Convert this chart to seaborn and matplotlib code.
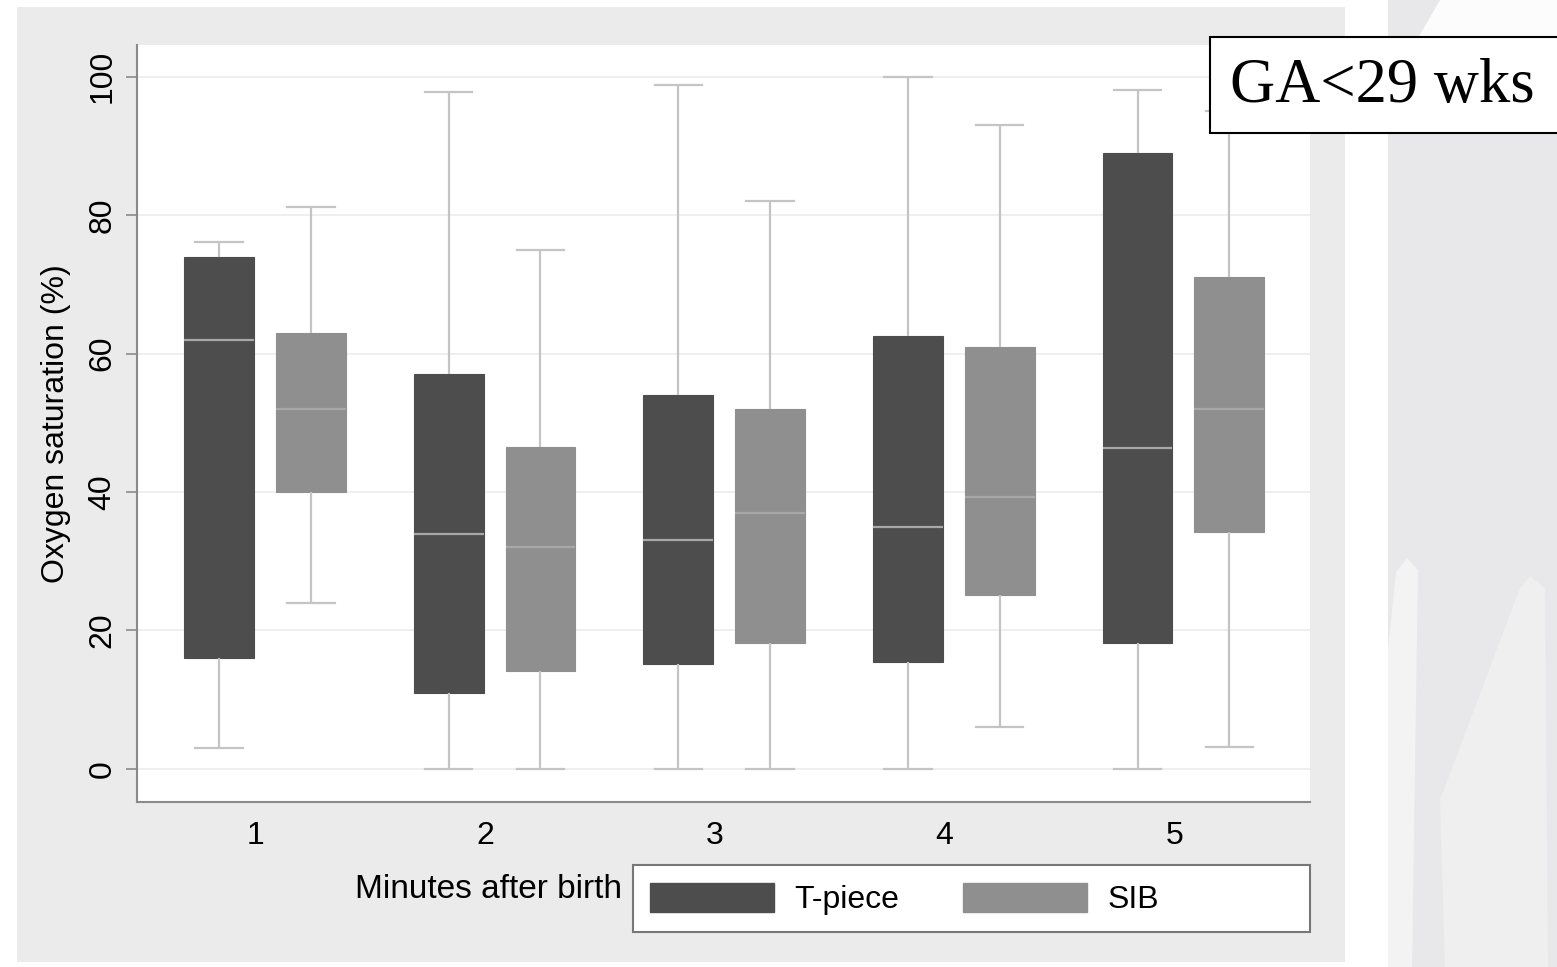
import matplotlib
matplotlib.use("Agg")
import matplotlib.pyplot as plt
import seaborn as sns
import numpy as np
import pandas as pd
from matplotlib.patches import Rectangle, Patch

# five-number summaries (min, q1, median, q3, max)
minutes = ["1", "2", "3", "4", "5"]
devices = ["T-piece", "SIB"]

tpiece_min = [3, 0, 0, 0, 0]
tpiece_q1 = [16, 11, 15.2, 15.5, 18.2]
tpiece_med = [62, 34, 33, 35, 46.3]
tpiece_q3 = [74, 57, 54, 62.5, 89]
tpiece_max = [76.2, 97.8, 98.8, 100, 98.1]

sib_min = [24, 0, 0, 6.1, 3.1]
sib_q1 = [40, 14.1, 18.2, 25.1, 34.2]
sib_med = [52, 32, 37, 39.3, 52]
sib_q3 = [63, 46.5, 52, 61, 71]
sib_max = [81.2, 75, 82, 93, 95]

colors = {"T-piece": "#4d4d4d", "SIB": "#8f8f8f"}


def build_frame():
    """Five points per box give exactly these quartiles with linear percentiles."""
    rows = []
    for i, m in enumerate(minutes):
        for dev, parts in (("T-piece", (tpiece_min, tpiece_q1, tpiece_med, tpiece_q3, tpiece_max)),
                           ("SIB", (sib_min, sib_q1, sib_med, sib_q3, sib_max))):
            for p in parts:
                rows.append({"minute": m, "device": dev, "sat": p[i]})
    return pd.DataFrame(rows)


df = build_frame()

W, H = 1557, 967
FS = 23
fig = plt.figure(figsize=(W / 100, H / 100), dpi=100)
fig.patch.set_facecolor("white")


def fig_poly(pts, color, z=-9):
    # polygon given in pixel coords of the picture (y down)
    xy = [(x / W, 1 - y / H) for x, y in pts]
    fig.patches.append(plt.Polygon(xy, closed=True, transform=fig.transFigure,
                                   facecolor=color, edgecolor="none", zorder=z))


# Stata graph region and the faint watermark strip on the right
fig.patches.append(Rectangle((17 / W, 1 - 962 / H), (1345 - 17) / W, (962 - 7) / H,
                             transform=fig.transFigure, facecolor="#ebebeb", edgecolor="none", zorder=-10))
fig.patches.append(Rectangle((1388 / W, 0), (W - 1388) / W, 1,
                             transform=fig.transFigure, facecolor="#e8e8ea", edgecolor="none", zorder=-10))
fig_poly([(1440, 0), (W, 0), (W, 72), (1388, 123), (1388, 90)], "#fcfcfc")
fig_poly([(1388, 650), (1396, 572), (1407, 558), (1418, 570), (1412, H), (1388, H)], "#f3f3f3")
fig_poly([(1440, 800), (1520, 588), (1530, 576), (1545, 588), (1548, H), (1445, H)], "#efefef")

ax = fig.add_axes([137 / W, 1 - 802 / H, (1310 - 137) / W, (802 - 45) / H])
ax.set_facecolor("white")

box_w = 0.4 * (1 - 0.24)
sns.boxplot(data=df, x="minute", y="sat", hue="device", order=minutes, hue_order=devices,
            palette=colors, saturation=1, width=0.8, gap=0.24, whis=(0, 100),
            showfliers=False, ax=ax,
            whiskerprops=dict(color="#c4c4c4", linewidth=1.6),
            capprops=dict(color="#c4c4c4", linewidth=1.6),
            medianprops=dict(color="#a8a8a8", linewidth=1.6),
            boxprops=dict(linewidth=0.8), zorder=2)

for patch in ax.patches:
    patch.set_edgecolor(patch.get_facecolor())

# Stata caps are about two thirds of the box width
for ln in ax.lines:
    xd = np.asarray(ln.get_xdata(), dtype=float)
    yd = np.asarray(ln.get_ydata(), dtype=float)
    if len(xd) == 2 and yd[0] == yd[1] and 0 < abs(xd[1] - xd[0]) < 0.9 * box_w:
        c = xd.mean()
        ln.set_xdata([c - 0.34 * box_w, c + 0.34 * box_w])

ax.set_xlim(-0.557, 4.551)
ax.set_ylim(-4.8, 104.6)
ax.set_xticks(np.arange(len(minutes)) - 0.04)
ax.set_xticklabels(minutes)
ax.set_yticks([0, 20, 40, 60, 80, 100])
ax.yaxis.grid(True, color="#ececec", linewidth=1.2, zorder=0)
ax.set_axisbelow(True)
for s in ("top", "right"):
    ax.spines[s].set_visible(False)
for s in ("left", "bottom"):
    ax.spines[s].set_color("#8a8a8a")
    ax.spines[s].set_linewidth(1.5)
ax.tick_params(axis="y", length=8, width=1.2, color="#8a8a8a", labelsize=FS, pad=6)
ax.tick_params(axis="x", length=0, labelsize=FS, pad=14)
for lab in ax.get_yticklabels():
    lab.set_rotation(90)
    lab.set_va("center")
ax.set_xlabel("")
ax.set_ylabel("Oxygen saturation (%)", fontsize=FS, labelpad=12)
for t in ax.get_xticklabels() + ax.get_yticklabels() + [ax.yaxis.label]:
    t.set_family("Liberation Sans")

leg = ax.get_legend()
if leg is not None:
    leg.remove()

# x title sits left of the legend, like Stata does it
fig.text(622 / W, 1 - 890 / H, "Minutes after birth", ha="right", va="center",
         fontsize=24, family="Liberation Sans")

fig.patches.append(Rectangle((633 / W, 1 - 932 / H), (1310 - 633) / W, (932 - 865) / H,
                             transform=fig.transFigure, facecolor="white", edgecolor="#777777",
                             linewidth=1.5, zorder=1))
handles = [Patch(facecolor=colors[d], edgecolor=colors[d]) for d in devices]
fig.legend(handles, devices, loc="center left", bbox_to_anchor=(621 / W, 1 - 899 / H),
           ncol=2, frameon=False, handlelength=3.9, handleheight=1.03, handletextpad=0.62,
           columnspacing=2.0, prop={"family": "Liberation Sans", "size": FS})

# GA label box in the upper right corner
fig.patches.append(Rectangle((1210 / W, 1 - 133 / H), (W - 1210 + 5) / W, (133 - 37) / H,
                             transform=fig.transFigure, facecolor="white", edgecolor="black",
                             linewidth=1.5, zorder=5))
fig.text(1230 / W, 1 - 87 / H, "GA<29 wks", ha="left", va="center", fontsize=45,
         family="Liberation Serif", zorder=6)

fig.savefig("out.png", dpi=100, facecolor=fig.get_facecolor())
